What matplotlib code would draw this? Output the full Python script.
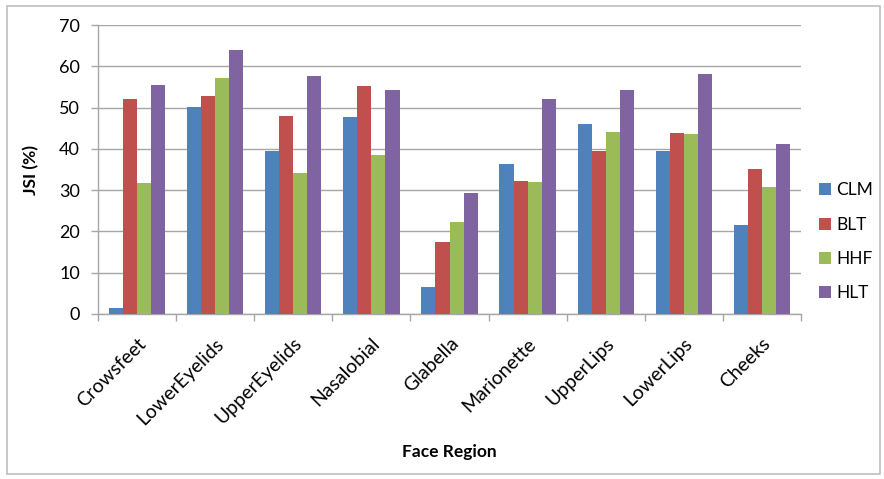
import matplotlib.pyplot as plt
import numpy as np
from matplotlib.patches import Rectangle

plt.rcParams["font.family"] = ["Lato", "DejaVu Sans"]

# JSI per face region for each method
regions = ["Crowsfeet", "LowerEyelids", "UpperEyelids", "Nasalobial", "Glabella",
           "Marionette", "UpperLips", "LowerLips", "Cheeks"]
clm = [1.4, 50.2, 39.6, 47.8, 6.5, 36.3, 46.1, 39.4, 21.6]
blt = [52.0, 52.8, 47.9, 55.2, 17.5, 32.3, 39.6, 43.8, 35.1]
hhf = [31.7, 57.3, 34.1, 38.6, 22.4, 31.9, 44.2, 43.5, 30.8]
hlt = [55.4, 63.9, 57.6, 54.3, 29.4, 52.1, 54.3, 58.2, 41.2]
methods = ["CLM", "BLT", "HHF", "HLT"]
colors = ["#4F81BD", "#C0504D", "#9BBB59", "#8064A2"]

fig = plt.figure(figsize=(8.84, 4.79), dpi=100)
ax = fig.add_axes([0.111, 0.3445, 0.795, 0.603])

# outer chart frame
fig.patches.append(Rectangle((0.008, 0.01), 0.987, 0.978, transform=fig.transFigure,
                             fill=False, edgecolor="#BFBFBF", linewidth=1.2))

x = np.arange(len(regions))
w = 0.18
for i, (vals, name, c) in enumerate(zip([clm, blt, hhf, hlt], methods, colors)):
    ax.bar(x + (i - 1.5) * w, vals, width=w, color=c, label=name, zorder=3)

ax.set_xlim(-0.5, len(regions) - 0.5)
ax.set_ylim(0, 70)
ax.set_yticks(range(0, 71, 10))
ax.grid(axis="y", color="#A6A6A6", linewidth=1.0, zorder=0)

# category ticks sit between groups, labels at group centres
ax.set_xticks(np.arange(-0.5, len(regions), 1.0))
ax.set_xticklabels([])
ax.set_xticks(x, minor=True)
ax.set_xticklabels(regions, minor=True, rotation=45, ha="right",
                   rotation_mode="anchor", fontsize=14)
ax.tick_params(axis="x", which="minor", length=0, pad=15)
ax.tick_params(axis="x", which="major", length=5, color="#A6A6A6", width=1.0)
ax.tick_params(axis="y", length=5, color="#A6A6A6", width=1.0, labelsize=13, pad=8)

for s in ["top", "right"]:
    ax.spines[s].set_visible(False)
for s in ["left", "bottom"]:
    ax.spines[s].set_color("#A6A6A6")
    ax.spines[s].set_linewidth(1.0)

ax.set_ylabel("JSI (%)", fontsize=12.5, fontweight="bold", labelpad=14)
ax.set_xlabel("Face Region", fontsize=12.5, fontweight="bold", labelpad=12)

ax.legend(loc="center left", bbox_to_anchor=(1.003, 0.25), frameon=False,
          fontsize=12.5, handlelength=0.7, handleheight=0.7, handletextpad=0.3,
          labelspacing=1.05)

fig.savefig("out.png", dpi=100)
